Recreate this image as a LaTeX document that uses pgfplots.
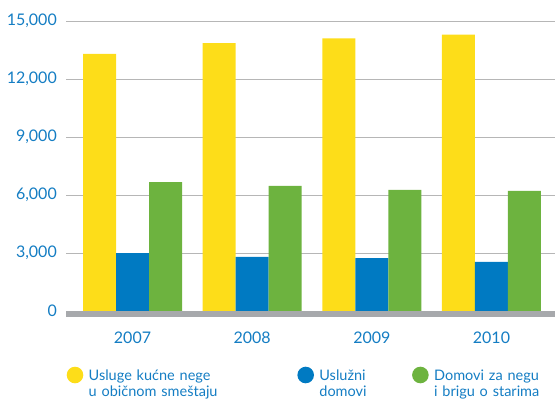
\documentclass[border=0pt]{standalone}
\usepackage{pgfplots}
\pgfplotsset{compat=1.18}
\usepackage{fontspec}
\setmainfont{Lato}
\definecolor{cYellow}{RGB}{253,221,25}
\definecolor{cBlue}{RGB}{0,122,194}
\definecolor{cGreen}{RGB}{109,179,63}
\definecolor{cBand}{RGB}{167,169,172}
\definecolor{cGrid}{RGB}{182,182,182}
\definecolor{cText}{RGB}{20,125,195}
\begin{document}
\begin{tikzpicture}
\path[use as bounding box, clip] (0,0) rectangle (555bp,-401bp);
\begin{axis}[
  at={(66bp,-311bp)}, anchor=south west,
  scale only axis, width=489bp, height=290bp,
  xmin=-0.556, xmax=3.531, ymin=0, ymax=15000,
  ybar, bar width=0.2758,
  xtick={0,1,2,3}, xticklabels={2007,2008,2009,2010},
  ytick={0,3000,6000,9000,12000,15000},
  scaled y ticks=false,
  /pgf/number format/assume math mode=true,
  tick label style={font=\fontsize{16bp}{19bp}\selectfont, text=cText},
  xticklabel style={inner sep=0pt, yshift=-21bp},
  yticklabel style={inner sep=0pt, xshift=-9bp},
  major tick length=0pt,
  axis line style={draw=none},
  ymajorgrids, major grid style={cGrid, line width=1bp},
  after end axis/.code={\fill[cBand] (rel axis cs:0,0) rectangle ([yshift=-6bp]rel axis cs:1,0);},
  legend columns=3,
  legend style={at={(0,0)}, anchor=north west, xshift=0.7bp, yshift=-55.7bp,
    draw=none, fill=none, inner sep=0pt, outer sep=0pt, column sep=0pt,
    font=\fontsize{14.5bp}{16bp}\selectfont, text=cText,
    nodes={inner sep=0pt, anchor=base west, align=left, font=\fontsize{14.5bp}{16bp}\selectfont, text=cText}},
  legend image code/.code={\fill[#1, draw=none] (8.3bp,5.5bp) circle[radius=8.3bp]; \path (0bp,0bp) (22bp,0bp);},
]
\addplot[fill=cYellow, draw=none, bar shift=-0.2758] coordinates {(0,13300) (1,13850) (2,14100) (3,14300)};
\addlegendentry[text width=208.7bp]{Usluge kućne nege\\u običnom smeštaju}
\addplot[fill=cBlue, draw=none, bar shift=0] coordinates {(0,2990) (1,2800) (2,2740) (3,2540)};
\addlegendentry[text width=92.7bp]{Uslužni\\domovi}
\addplot[fill=cGreen, draw=none, bar shift=0.2758] coordinates {(0,6670) (1,6470) (2,6260) (3,6210)};
\addlegendentry[text width=122bp]{Domovi za negu\\i brigu o starima}
\end{axis}
\end{tikzpicture}
\end{document}
